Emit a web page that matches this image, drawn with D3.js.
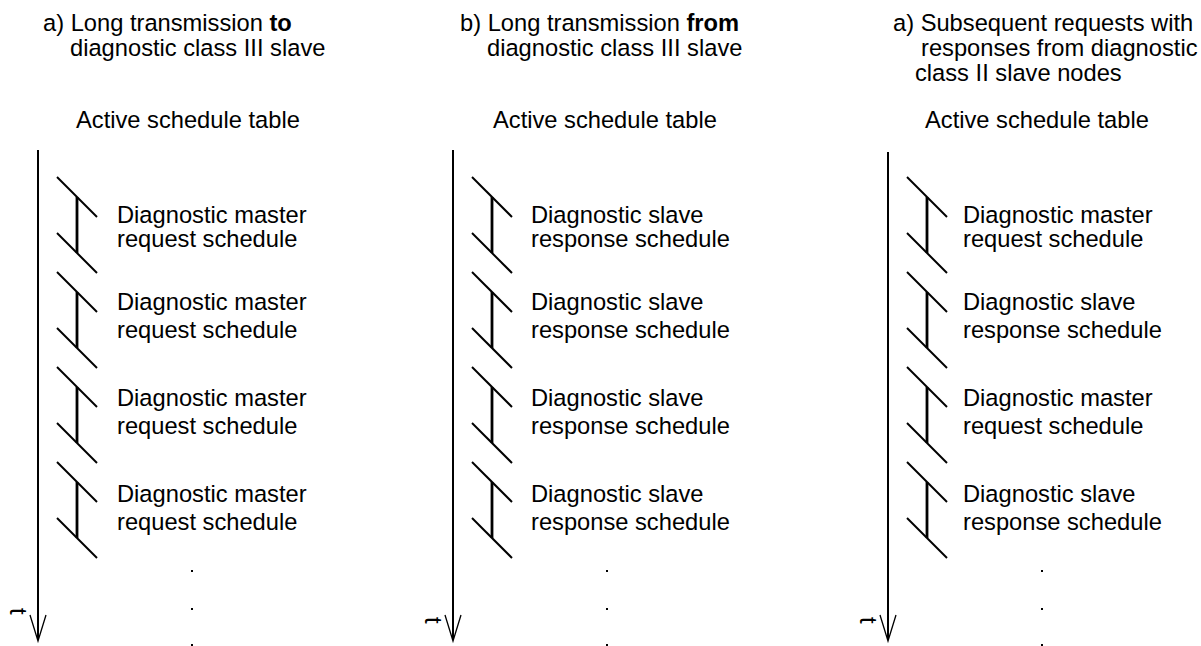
<!DOCTYPE html>
<html>
<head>
<meta charset="utf-8">
<script src="https://cdn.jsdelivr.net/npm/d3@7"></script>
<style>
  body { margin: 0; background: #fff; }
  text { font-family: "Liberation Sans", Arial, sans-serif; font-size: 23.7px; fill: #000; }
</style>
</head>
<body>
<div id="chart"></div>
<script>
// panel titles (each line is a list of [text, bold] pieces)
var titles = [
  [[["a) Long transmission ", false], ["to", true]], [["diagnostic class III slave", false]]],
  [[["b) Long transmission ", false], ["from", true]], [["diagnostic class III slave", false]]],
  [[["a) Subsequent requests with", false]], [["responses from diagnostic", false]], [["class II slave nodes", false]]]
];
var subTitle = "Active schedule table";
var masterReq = ["Diagnostic master", "request schedule"];
var slaveResp = ["Diagnostic slave", "response schedule"];
// schedule blocks for each panel, top to bottom
var schedules = [
  [masterReq, masterReq, masterReq, masterReq],
  [slaveResp, slaveResp, slaveResp, slaveResp],
  [masterReq, slaveResp, masterReq, slaveResp]
];
var timeLabel = "t";

// layout
var width = 1201, height = 646;
var panelX = d3.scaleOrdinal().domain([0, 1, 2]).range([38, 453, 888]); // time axis x
var titleX = [[43, 70], [460, 487], [893, 921, 915]];
var subX = [76, 493, 925];
var textX = [79, 78, 75];
var titleY = d3.scaleLinear().domain([0, 1]).range([31, 56]);
var blockY = d3.scaleLinear().domain([0, 1]).range([177, 272]);
var textOff = [[46, 70], [38, 66], [39, 67], [40, 68]];
var tY = [608, 617, 617];

var svg = d3.select("#chart").append("svg")
  .attr("width", width)
  .attr("height", height);

titles.forEach(function (lines, p) {
  var g = svg.append("g");
  var ax = panelX(p);

  // title lines
  lines.forEach(function (pieces, i) {
    var t = g.append("text")
      .attr("x", titleX[p][i])
      .attr("y", titleY(i));
    pieces.forEach(function (pc) {
      t.append("tspan").text(pc[0]).style("font-weight", pc[1] ? "bold" : "normal");
    });
  });
  g.append("text").attr("x", subX[p]).attr("y", 128).text(subTitle);

  // time axis with open arrow head
  g.append("line")
    .attr("x1", ax).attr("x2", ax)
    .attr("y1", p == 2 ? 152 : 150).attr("y2", 640)
    .attr("stroke", "#000").attr("stroke-width", 2);
  g.append("path")
    .attr("d", d3.line()([[ax - 8, 615], [ax, 641], [ax + 8, 615]]))
    .attr("fill", "none").attr("stroke", "#000").attr("stroke-width", 1.3);
  g.append("text")
    .attr("transform", "translate(" + (ax - 28) + "," + tY[p] + ") rotate(90)")
    .text(timeLabel);

  // schedule blocks
  schedules[p].forEach(function (lab, i) {
    var y0 = blockY(i);
    var sx = ax + 19;
    [0, 56].forEach(function (dy) {
      g.append("line")
        .attr("x1", sx).attr("y1", y0 + dy)
        .attr("x2", sx + 40).attr("y2", y0 + dy + 40)
        .attr("stroke", "#000").attr("stroke-width", 2);
    });
    g.append("line")
      .attr("x1", sx + 20).attr("x2", sx + 20)
      .attr("y1", y0 + 20).attr("y2", y0 + 76)
      .attr("stroke", "#000").attr("stroke-width", 2.8);
    lab.forEach(function (s, k) {
      g.append("text")
        .attr("x", ax + textX[p])
        .attr("y", y0 + textOff[i][k])
        .text(s);
    });
  });

  // continuation dots
  g.selectAll(".dot").data([571, 609, 645]).enter().append("rect")
    .attr("x", ax + 153).attr("y", function (d) { return d - 1; })
    .attr("width", 2).attr("height", 2)
    .attr("fill", "#000");
});
</script>
</body>
</html>
